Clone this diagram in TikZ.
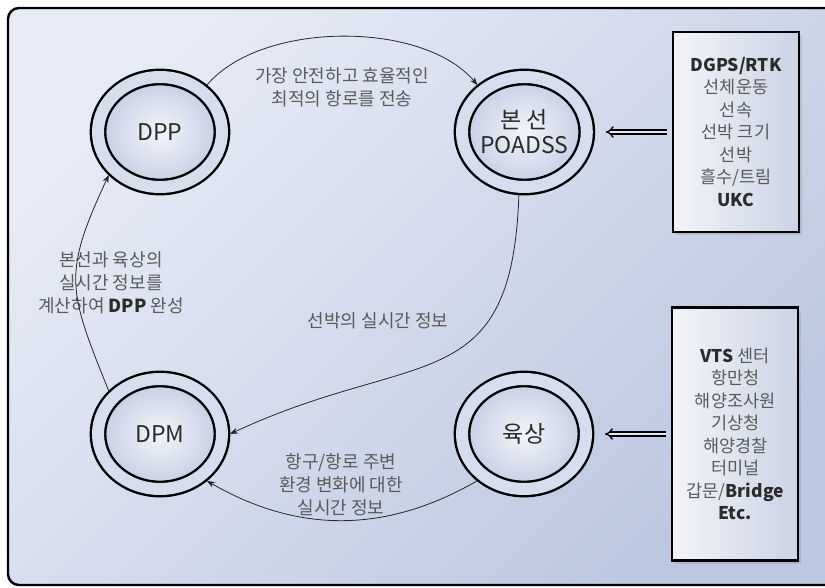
\documentclass[tikz,border=0pt]{standalone}
\usepackage{fontspec}
\setmainfont{Noto Sans CJK KR}
\usepackage{tikz}
\usetikzlibrary{positioning,arrows.meta,shapes.geometric,shadows}
\definecolor{frameA}{HTML}{E7EBF6}
\definecolor{frameB}{HTML}{BCC8E0}
\definecolor{ring}{HTML}{D6DDEC}
\definecolor{circC}{HTML}{C3CDE3}
\definecolor{boxC}{HTML}{CBD3E5}
\definecolor{ink}{HTML}{2B2B2B}
\definecolor{kgray}{HTML}{5A5A5A}

\begin{document}
\begin{tikzpicture}[x=1pt,y=1pt,
  state/.style={ellipse,draw=black,line width=2.4pt,double=ring,double distance=12pt,
    minimum width=124pt,minimum height=110pt,inner sep=0pt,outer sep=8pt,
    inner color=white!70!ring,outer color=circC,
    text=ink,align=center,font=\fontsize{23}{25}\selectfont},
  infobox/.style={rectangle,draw=black,line width=2.4pt,minimum width=126pt,
    left color=white!75!boxC,right color=boxC,
    drop shadow={opacity=0.25,shadow xshift=3pt,shadow yshift=-3pt},
    text=kgray,align=center,font=\fontsize{17.5}{22.5}\selectfont},
  note/.style={text=kgray,align=center,font=\fontsize{18}{23}\selectfont},
  flow/.style={draw=black!85,line width=0.8pt,-{Stealth[length=8pt,width=6pt]}},
  feed/.style={draw=black,line width=1.3pt,double=ring!70!white,double distance=2.6pt,
    -{Implies},shorten <=5pt,shorten >=11pt}]
\clip (0,0) rectangle (825,-588);
\fill[white] (0,0) rectangle (825,-588);
% background frame, right side runs off the page
\draw[line width=2.4pt,rounded corners=11pt,top color=frameA,bottom color=frameB,shading angle=45]
  (8,-8) rectangle (840,-585);

% NODE 1-4: the four stations
\node[state] (dpp) at (160,-132) {DPP};
\node[state,right=224pt of dpp] (poadss) {본 선\\POADSS};
\node[state,below=176pt of dpp] (dpm) {DPM};
\node[state,right=224pt of dpm] (yuksang) {육상};

% NODE 5-6: information sources on the right
\node[infobox,minimum height=200pt,right=77pt of poadss] (sensors)
  {\textbf{\color{ink}DGPS/RTK}\\선체운동\\선속\\선박 크기\\선박\\흘수/트림\\\textbf{\color{ink}UKC}};
\node[infobox,minimum height=253pt,right=77pt of yuksang] (agencies)
  {\textbf{\color{ink}VTS} 센터\\항만청\\해양조사원\\기상청\\해양경찰\\터미널\\갑문/\textbf{\color{ink}Bridge}\\\textbf{\color{ink}Etc.}};

% labels on the cycle
\node[note] (sendlbl) at (342,-87) {가장 안전하고 효율적인\\최적의 항로를 전송};
\node[note] (calclbl) at (111,-283) {본선과 육상의\\실시간 정보를\\계산하여 \textbf{\color{ink}DPP} 완성};
\node[note] (shiplbl) at (378,-321) {선박의 실시간 정보};
\node[note] (portlbl) at (341,-485) {항구/항로 주변\\환경 변화에 대한\\실시간 정보};

% connectors
\draw[flow] (dpp.45) to[out=50,in=130,looseness=0.8] (poadss.135);
\draw[flow] (poadss.-95) to[out=-92,in=25,looseness=1.4] (dpm.east);
\draw[flow] (yuksang.-135) to[out=-150,in=-30] (dpm.-45);
\draw[flow] (dpm.140) to[out=112,in=-115,looseness=1.3] (dpp.-140);
\draw[feed] (sensors) -- (poadss);
\draw[feed] (agencies) -- (yuksang);
\end{tikzpicture}
\end{document}
